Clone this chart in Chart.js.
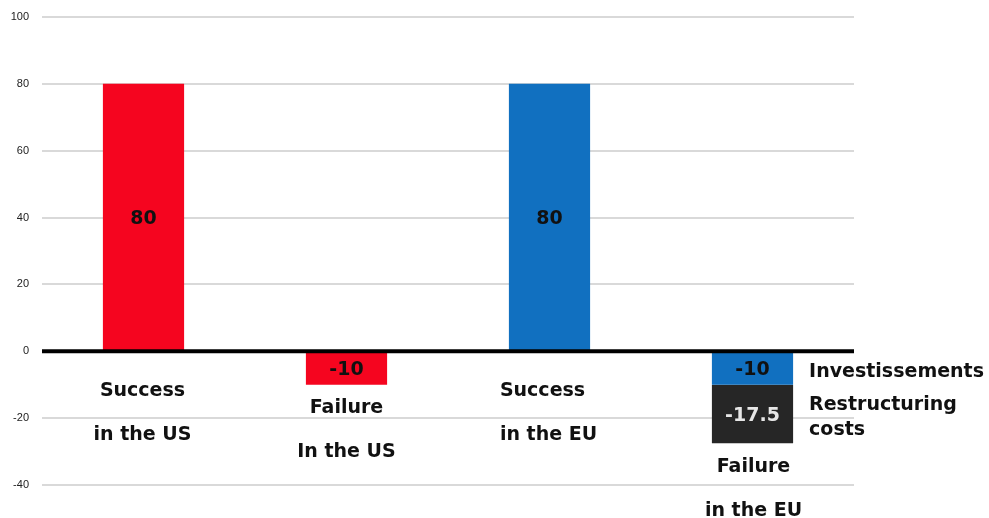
<!DOCTYPE html>
<html>
<head>
<meta charset="utf-8">
<script src="https://cdn.jsdelivr.net/npm/chart.js@4.4.0/dist/chart.umd.min.js"></script>
<style>
  html, body { margin: 0; padding: 0; background: #fff; }
  canvas { display: block; }
</style>
</head>
<body>
<canvas id="chart1Vis"></canvas>
<script>
// scenarios along the x axis
var categories = ["Success in the US", "Failure In the US", "Success in the EU", "Failure in the EU"];
var categoryLines = [["Success", "in the US"], ["Failure", "In the US"], ["Success", "in the EU"], ["Failure", "in the EU"]];

// one stacked series per colour
var usValues = [80, -10, null, null];
var euValues = [null, null, 80, -10];
var restructuringValues = [null, null, null, -17.5];

// names written next to the split bar
var seriesNames = ["", "Investissements", "Restructuring costs"];
var seriesNameLines = [[], ["Investissements"], ["Restructuring", "costs"]];

var yTicks = [100, 80, 60, 40, 20, 0, -20, -40];

var labelFont = 'bold 19px "DejaVu Sans", Verdana, sans-serif';

// thick black line at zero, on top of the bars
var zeroLine = {
    id: 'zeroLine',
    afterDatasetsDraw: function(chart) {
        var ctx = chart.ctx;
        var area = chart.chartArea;
        var y0 = chart.scales.y.getPixelForValue(0);
        ctx.save();
        ctx.strokeStyle = '#000';
        ctx.lineWidth = 4;
        ctx.beginPath();
        ctx.moveTo(area.left, y0);
        ctx.lineTo(area.right, y0);
        ctx.stroke();
        ctx.restore();
    }
};

// writes the value in the middle of each bar segment
var valueLabels = {
    id: 'valueLabels',
    afterDatasetsDraw: function(chart) {
        var ctx = chart.ctx;
        ctx.save();
        ctx.font = labelFont;
        ctx.textAlign = 'center';
        ctx.textBaseline = 'middle';
        chart.data.datasets.forEach(function(ds, i) {
            var meta = chart.getDatasetMeta(i);
            meta.data.forEach(function(bar, j) {
                var v = ds.data[j];
                if (v === null || v === undefined) return;
                ctx.fillStyle = ds.labelColor;
                ctx.fillText(String(v), bar.x, (bar.y + bar.base) / 2 + 2);
            });
        });
        ctx.restore();
    }
};

// category captions under the zero line and series names beside the last bar
var captions = {
    id: 'captions',
    afterDraw: function(chart) {
        var ctx = chart.ctx;
        var y = chart.scales.y;
        var zero = y.getPixelForValue(0);
        ctx.save();
        ctx.font = labelFont;
        ctx.fillStyle = '#111';
        ctx.textBaseline = 'middle';

        var metaUs = chart.getDatasetMeta(0);
        var metaEu = chart.getDatasetMeta(1);
        var bars = [metaUs.data[0], metaUs.data[1], metaEu.data[2], metaEu.data[3]];
        var starts = [40, 57, 40, 116];
        var align = ['center', 'center', 'left', 'center'];
        var shift = [-1, 0, 0, 1];
        categoryLines.forEach(function(lines, i) {
            var bar = bars[i];
            ctx.textAlign = align[i];
            var x = align[i] === 'left' ? bar.x - bar.width / 2 - 9 : bar.x + shift[i];
            lines.forEach(function(t, k) {
                ctx.fillText(t, x, zero + starts[i] + k * 44);
            });
        });

        ctx.textAlign = 'left';
        for (var i = 1; i < chart.data.datasets.length; i++) {
            var bar = chart.getDatasetMeta(i).data[3];
            var lines = seriesNameLines[i];
            var mid = (bar.y + bar.base) / 2;
            var top = mid - (lines.length - 1) * 25 / 2 + 4;
            lines.forEach(function(t, k) {
                ctx.fillText(t, bar.x + bar.width / 2 + 16, top + k * 25);
            });
        }
        ctx.restore();
    }
};

var ctx = document.getElementById("chart1Vis").getContext("2d");
ctx.canvas.width = 989;
ctx.canvas.height = 518;

var chart = new Chart(ctx, {
    type: 'bar',
    data: {
        labels: categories,
        datasets: [
            {
                label: seriesNames[0],
                data: usValues,
                backgroundColor: '#f5051f',
                labelColor: '#111'
            },
            {
                label: seriesNames[1],
                data: euValues,
                backgroundColor: '#1170c0',
                labelColor: '#111'
            },
            {
                label: seriesNames[2],
                data: restructuringValues,
                backgroundColor: '#262626',
                labelColor: '#e6e6e6'
            }
        ]
    },
    options: {
        responsive: false,
        animation: false,
        layout: { padding: { top: 17, right: 135, bottom: 33, left: 0 } },
        datasets: {
            bar: { categoryPercentage: 1, barPercentage: 0.4, borderWidth: 0 }
        },
        plugins: {
            legend: { display: false },
            tooltip: { enabled: false }
        },
        scales: {
            x: {
                stacked: true,
                display: false
            },
            y: {
                stacked: true,
                min: -40,
                max: 100,
                afterFit: function(scale) {
                    scale.width = 42;
                    scale.paddingTop = 0;
                    scale.paddingBottom = 0;
                },
                afterBuildTicks: function(scale) {
                    scale.ticks = yTicks.map(function(v) { return { value: v }; });
                },
                border: { display: false },
                grid: {
                    drawTicks: false,
                    color: function(c) { return c.tick && c.tick.value === 0 ? 'rgba(0,0,0,0)' : '#d9d9d9'; },
                    lineWidth: 2
                },
                ticks: {
                    padding: 13,
                    color: '#222',
                    font: { family: '"Liberation Sans", Arial, sans-serif', size: 11 }
                }
            }
        }
    },
    plugins: [zeroLine, valueLabels, captions]
});
</script>
</body>
</html>
